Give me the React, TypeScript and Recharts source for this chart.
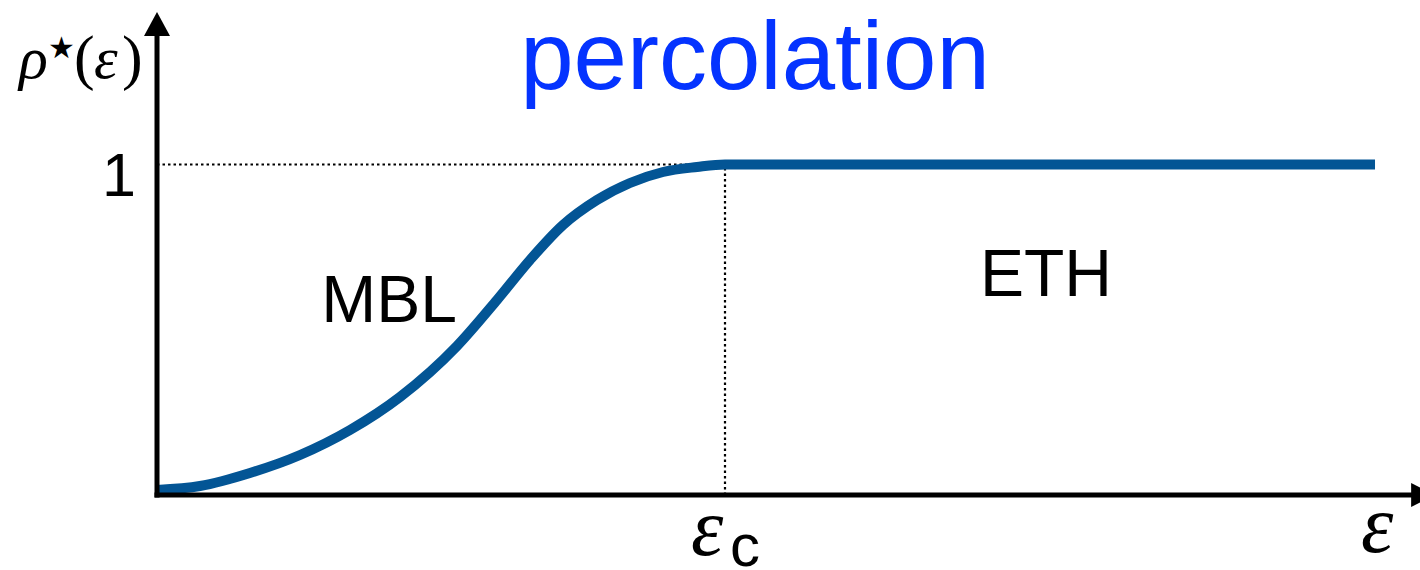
import React from 'react';
import {
  LineChart,
  Line,
  XAxis,
  YAxis,
  ReferenceLine,
  ReferenceDot,
} from 'recharts';

// Energy density ε (in units of the critical value ε_c) and the percolation fraction ρ*(ε)
const epsilon = [0, 0.0757, 0.1637, 0.2518, 0.3398, 0.4278, 0.5282, 0.5986, 0.6567, 0.7148, 0.7746, 0.8327, 0.8908, 0.9507, 1.0, 2.1444];
const rho = [0, 0.0123, 0.0522, 0.1075, 0.1843, 0.2857, 0.4424, 0.5837, 0.7066, 0.8141, 0.8909, 0.9432, 0.977, 0.9923, 1.0, 1.0];

// Tick values
const EPS_C = 1;
const RHO_ONE = 1;
const xTicks = [EPS_C];
const yTicks = [RHO_ONE];

// Axis extents (the axes run a little past the data, ending in arrows)
const X_MAX = 2.2236;
const X_ARROW = 2.208;
const Y_MIN = -0.0154;
const Y_MAX = 1.3948;

// Annotation anchors, in data coordinates
const TITLE_POS = { x: 1.0528, y: 1.232 };
const MBL_POS = { x: 0.4085, y: 0.516 };
const ETH_POS = { x: 1.565, y: 0.596 };

const data = epsilon.map((e, i) => ({ eps: e, rho: rho[i] }));

const SANS = '"Liberation Sans", Arial, Helvetica, sans-serif';
const SERIF = '"Liberation Serif", "DejaVu Serif", serif';
const CURVE = '#035595';
const TITLE_BLUE = '#0433ff';

const textShape = (label: string, size: number, fill: string) => (props: any) => (
  <text
    x={props.cx}
    y={props.cy}
    textAnchor="middle"
    fontFamily={SANS}
    fontSize={size}
    fill={fill}
  >
    {label}
  </text>
);

const YArrow = (props: any) => {
  const { cx, cy } = props;
  return <polygon points={`${cx},${cy - 24} ${cx - 13},${cy} ${cx + 13},${cy}`} fill="#000" />;
};

const XArrow = (props: any) => {
  const { cx, cy } = props;
  return <polygon points={`${cx},${cy - 12} ${cx + 24},${cy} ${cx},${cy + 12}`} fill="#000" />;
};

const EpsCTick = (props: any) => {
  const { x, y } = props;
  return (
    <g>
      <text x={x - 34} y={y + 60} fontFamily={SERIF} fontStyle="italic" fontSize={82} fill="#000">
        ε
      </text>
      <text x={x + 5} y={y + 71} fontFamily={SANS} fontSize={60} fill="#000">
        c
      </text>
    </g>
  );
};

const OneTick = (props: any) => {
  const { x, y } = props;
  return (
    <text x={x} y={y + 31.5} textAnchor="end" fontFamily={SANS} fontSize={61} fill="#000">
      1
    </text>
  );
};

const XTitle = (props: any) => {
  const vb = props.viewBox;
  return (
    <text
      x={vb.x + vb.width - 59}
      y={vb.y + 57}
      fontFamily={SERIF}
      fontStyle="italic"
      fontSize={82}
      fill="#000"
    >
      ε
    </text>
  );
};

const YTitle = (props: any) => {
  const vb = props.viewBox;
  const by = vb.y + 42;
  return (
    <g fill="#000">
      <text x={vb.x + 19} y={by} fontFamily={SERIF} fontStyle="italic" fontSize={60}>
        ρ
      </text>
      <text x={vb.x + 48} y={by - 20} fontFamily='"DejaVu Sans", sans-serif' fontSize={30}>
        ★
      </text>
      <text x={vb.x + 74} y={by} fontFamily={SERIF} fontSize={62}>
        (
      </text>
      <text x={vb.x + 94} y={by} fontFamily={SERIF} fontStyle="italic" fontSize={60}>
        ε
      </text>
      <text x={vb.x + 122} y={by} fontFamily={SERIF} fontSize={62}>
        )
      </text>
    </g>
  );
};

export default function App() {
  return (
    <div style={{ width: 1420, height: 570 }}>
      <style>{'body{margin:0}'}</style>
      <LineChart
        width={1420}
        height={570}
        data={data}
        margin={{ top: 36, right: 0, bottom: 0, left: 0 }}
      >
        <XAxis
          dataKey="eps"
          type="number"
          domain={[0, X_MAX]}
          ticks={xTicks}
          tick={<EpsCTick />}
          tickLine={false}
          tickSize={0}
          tickMargin={0}
          height={75}
          axisLine={{ stroke: '#000', strokeWidth: 5, strokeLinecap: 'square' }}
          label={<XTitle />}
        />
        <YAxis
          type="number"
          domain={[Y_MIN, Y_MAX]}
          ticks={yTicks}
          tick={<OneTick />}
          tickLine={false}
          tickSize={0}
          tickMargin={21}
          width={157}
          axisLine={{ stroke: '#000', strokeWidth: 5, strokeLinecap: 'square' }}
          label={<YTitle />}
        />
        <ReferenceLine
          segment={[{ x: 0, y: RHO_ONE }, { x: EPS_C, y: RHO_ONE }]}
          stroke="#000"
          strokeWidth={2.2}
          strokeDasharray="2.5 3"
        />
        <ReferenceLine
          segment={[{ x: EPS_C, y: Y_MIN }, { x: EPS_C, y: RHO_ONE }]}
          stroke="#000"
          strokeWidth={2.2}
          strokeDasharray="2.5 3"
        />
        <Line
          type="monotone"
          dataKey="rho"
          stroke={CURVE}
          strokeWidth={10}
          dot={false}
          activeDot={false}
          isAnimationActive={false}
        />
        <ReferenceDot x={0} y={Y_MAX} r={0} shape={<YArrow />} />
        <ReferenceDot x={X_ARROW} y={Y_MIN} r={0} shape={<XArrow />} />
        <ReferenceDot x={TITLE_POS.x} y={TITLE_POS.y} r={0} shape={textShape('percolation', 96, TITLE_BLUE)} />
        <ReferenceDot x={MBL_POS.x} y={MBL_POS.y} r={0} shape={textShape('MBL', 66, '#000')} />
        <ReferenceDot x={ETH_POS.x} y={ETH_POS.y} r={0} shape={textShape('ETH', 66, '#000')} />
      </LineChart>
    </div>
  );
}
